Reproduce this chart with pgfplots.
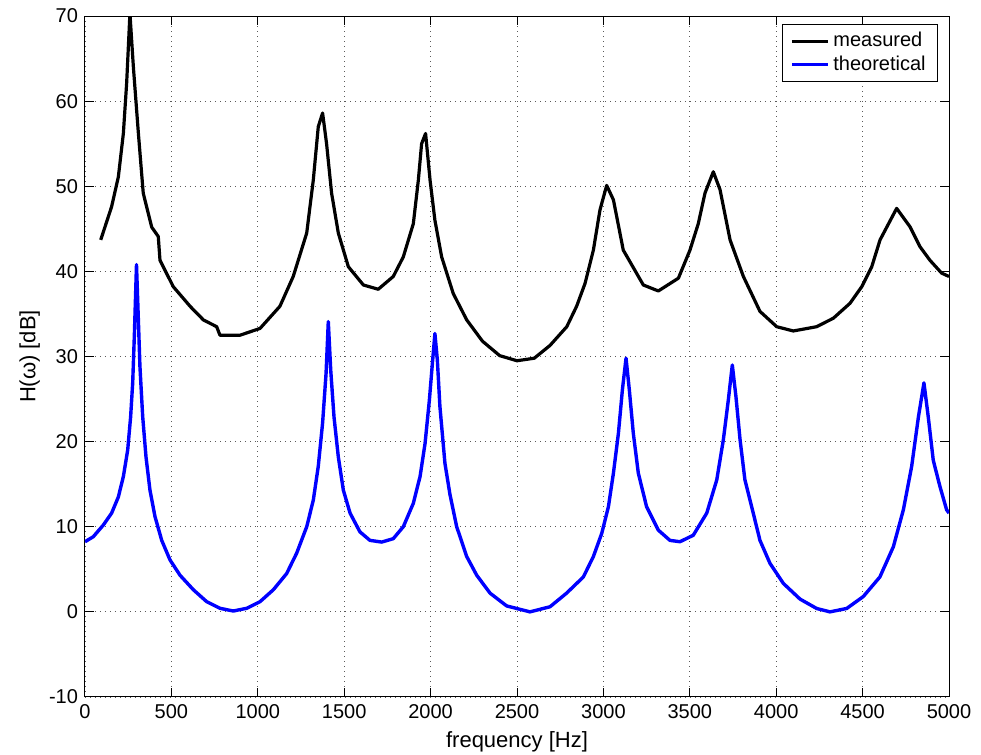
\documentclass[border=0pt]{standalone}
\usepackage{fontspec}
\setmainfont{Liberation Sans}
\usepackage{pgfplots}
\pgfplotsset{compat=1.18}

\begin{document}
\begin{tikzpicture}
% 1 px of the reference = 0.5pt; axis box 864 x 681 px
\begin{axis}[
    width=432pt, height=340.5pt, scale only axis,
    xmin=0, xmax=5000, ymin=-10, ymax=70,
    xtick={0,500,...,5000}, ytick={-10,0,...,70},
    /pgf/number format/assume math mode=true,
    /pgf/number format/1000 sep={},
    tick label style={font=\fontsize{10}{12}\selectfont},
    label style={font=\fontsize{11}{13}\selectfont},
    xlabel={frequency [Hz]}, ylabel={H(ω) [dB]},
    xlabel style={at={(axis description cs:0.5,-0.066)}, anchor=center},
    ylabel style={at={(axis description cs:-0.064,0.5)}, anchor=center},
    tick align=inside, major tick length=4.5pt,
    tick style={black, line width=0.5pt},
    axis line style={black, line width=0.5pt},
    grid=major,
    major grid style={black!65, line width=0.4pt, dash pattern=on 0.5pt off 2pt},
    legend style={at={(0.9873,0.9883)}, anchor=north east, draw=black,
        font=\fontsize{10}{12}\selectfont, inner xsep=4pt, inner ysep=2pt, row sep=-1pt},
    legend cell align=left,
    legend image code/.code={\draw[#1, line width=1.6pt] (0pt,0pt) -- (18pt,0pt);},
]
% measured response
\addplot[black, line width=1.6pt, line join=round] coordinates {
(91,43.7)(154,47.6)(193,51.1)(222,56.2)(241,62.1)(260,70.3)(280,64.0)(309,56.2)
(337,49.2)(386,45.2)(424,44.1)(434,41.3)(511,38.2)(608,35.9)(685,34.3)(762,33.5)
(781,32.5)(897,32.5)(1013,33.3)(1128,35.9)(1205,39.4)(1283,44.5)(1321,50.7)
(1350,57.0)(1375,58.6)(1398,55.0)(1427,49.2)(1466,44.5)(1524,40.55)(1611,38.4)
(1697,37.9)(1784,39.4)(1842,41.7)(1900,45.6)(1929,50.7)(1948,55.0)(1971,56.2)
(1997,50.7)(2025,46.0)(2064,41.7)(2131,37.4)(2209,34.3)(2300,31.8)(2400,30.1)
(2500,29.5)(2600,29.8)(2691,31.3)(2788,33.5)(2845,35.9)(2894,38.6)(2942,42.5)
(2980,47.2)(3019,50.1)(3058,48.4)(3115,42.5)(3231,38.4)(3318,37.7)(3434,39.2)
(3501,42.5)(3549,45.6)(3588,49.2)(3636,51.7)(3675,49.6)(3733,43.7)(3810,39.4)
(3906,35.3)(4003,33.5)(4099,33.0)(4234,33.5)(4331,34.5)(4427,36.25)(4495,38.2)
(4553,40.55)(4601,43.7)(4697,47.4)(4774,45.25)(4832,42.9)(4890,41.3)(4957,39.8)
(5000,39.4)};
\addlegendentry{measured}
% theoretical response
\addplot[blue, line width=1.7pt, line join=round] coordinates {
(0,8.24)(48,8.83)(106,10.2)(154,11.6)(193,13.5)(222,15.9)(247,19.0)(264,22.9)
(276,26.9)(286,32.7)(298,40.8)(318,28.8)(334,22.9)(353,18.2)(376,14.3)(405,11.2)
(444,8.4)(492,6.1)(550,4.3)(627,2.6)(704,1.2)(781,0.42)(858,0.1)(936,0.42)
(1013,1.2)(1090,2.6)(1167,4.5)(1225,6.9)(1283,10.0)(1321,13.1)(1350,17.1)
(1375,22.2)(1395,28.0)(1408,34.1)(1422,28.4)(1441,22.9)(1466,18.2)(1495,14.3)
(1534,11.6)(1591,9.4)(1649,8.4)(1717,8.2)(1784,8.6)(1842,10.0)(1900,12.75)
(1939,15.9)(1968,19.8)(1993,24.9)(2012,29.6)(2025,32.7)(2039,29.6)(2054,24.1)
(2083,17.45)(2112,13.8)(2151,10.0)(2209,6.5)(2267,4.3)(2344,2.2)(2440,0.7)
(2575,0.0)(2691,0.6)(2787,2.2)(2884,4.1)(2942,6.5)(2990,9.2)(3029,12.35)
(3058,16.3)(3087,21.0)(3110,26.1)(3131,29.8)(3150,26.1)(3173,21.0)(3202,16.3)
(3250,12.35)(3318,9.6)(3385,8.4)(3443,8.24)(3520,9.0)(3598,11.6)(3656,15.5)
(3694,20.2)(3723,24.9)(3746,29.0)(3767,25.3)(3791,20.2)(3819,15.5)(3858,12.35)
(3906,8.4)(3964,5.7)(4041,3.35)(4138,1.5)(4234,0.4)(4311,0.0)(4408,0.4)
(4504,1.8)(4600,4.1)(4678,7.65)(4736,12.0)(4784,17.1)(4823,22.9)(4855,26.9)
(4880,22.9)(4909,17.8)(4948,14.7)(4986,12.0)(5000,11.6)};
\addlegendentry{theoretical}
\end{axis}
\pgfresetboundingbox
\path (-42.5pt,-29pt) rectangle (448pt,348.5pt);
\end{tikzpicture}
\end{document}
